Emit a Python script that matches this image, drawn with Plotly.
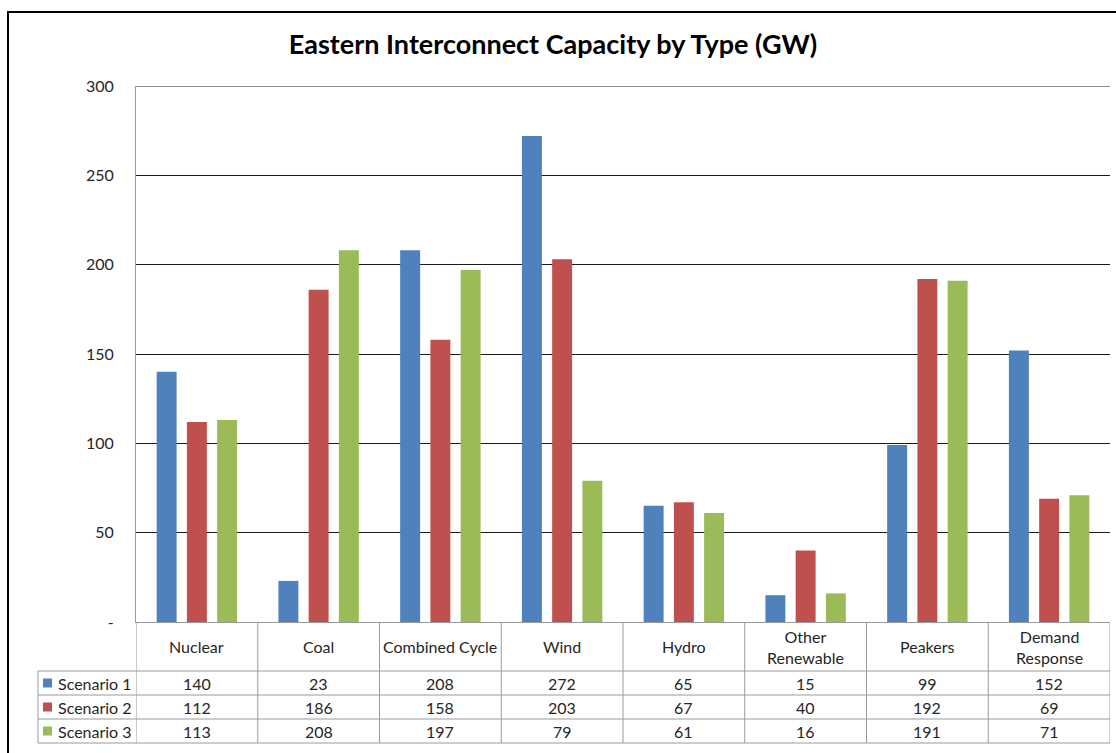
import plotly.graph_objects as go

# ---- data -------------------------------------------------------------
categories = ["Nuclear", "Coal", "Combined Cycle", "Wind", "Hydro",
              "Other<br>Renewable", "Peakers", "Demand<br>Response"]
scenario_names = ["Scenario 1", "Scenario 2", "Scenario 3"]
scenario_1 = [140, 23, 208, 272, 65, 15, 99, 152]
scenario_2 = [112, 186, 158, 203, 67, 40, 192, 69]
scenario_3 = [113, 208, 197, 79, 61, 16, 191, 71]
y_tick_values = [0, 50, 100, 150, 200, 250, 300]
y_tick_labels = ["-", "50", "100", "150", "200", "250", "300"]

series = [scenario_1, scenario_2, scenario_3]
colors = ["#4F81BD", "#C0504D", "#9BBB59"]

# ---- page geometry ------------------------------------------------------
W, H = 1116, 753
L, R, T, B = 136, 6, 86, 131
PW, PH = W - L - R, H - T - B
FONT = "Lato, 'Open Sans', sans-serif"
TEXT = "#262626"
CELL_LINE = "#9a9a9a"
FS = 16


def px_x(px):
    return (px - L) / PW


def px_y(py):
    return (H - B - py) / PH


header_top, header_bottom = 622, 671
row_edges = [671, 695, 719, 743]
legend_left = 38

fig = go.Figure()
x_idx = list(range(len(categories)))
for name, vals, col in zip(scenario_names, series, colors):
    fig.add_trace(go.Bar(x=x_idx, y=vals, name=name, marker_color=col,
                         marker_line_width=0, showlegend=False,
                         hovertemplate="%{y}<extra>" + name + "</extra>"))

shapes = []
annotations = []

# top gridline at the axis maximum
shapes.append(dict(type="line", xref="paper", yref="y", x0=0, x1=1,
                   y0=y_tick_values[-1], y1=y_tick_values[-1],
                   line=dict(color="#1a1a1a", width=1), layer="below"))

# data-table grid: horizontal rules (legend column + category cells)
for py in row_edges:
    shapes.append(dict(type="line", xref="paper", yref="paper",
                       x0=px_x(legend_left), x1=1, y0=px_y(py), y1=px_y(py),
                       line=dict(color=CELL_LINE, width=1)))
# vertical rules at category boundaries
for i in range(len(categories) + 1):
    shapes.append(dict(type="line", xref="x", yref="paper",
                       x0=i - 0.5, x1=i - 0.5,
                       y0=px_y(header_top), y1=px_y(row_edges[-1]),
                       line=dict(color=CELL_LINE, width=1)))
# left edge of the legend column
shapes.append(dict(type="line", xref="paper", yref="paper",
                   x0=px_x(legend_left), x1=px_x(legend_left),
                   y0=px_y(row_edges[0]), y1=px_y(row_edges[-1]),
                   line=dict(color=CELL_LINE, width=1)))

# header labels
for i, cat in enumerate(categories):
    annotations.append(dict(x=i, y=px_y((header_top + header_bottom) / 2),
                            xref="x", yref="paper", text=cat, showarrow=False,
                            font=dict(family=FONT, size=FS, color=TEXT),
                            xanchor="center", yanchor="middle"))

# value rows with legend keys
for r, (name, vals, col) in enumerate(zip(scenario_names, series, colors)):
    top, bot = row_edges[r], row_edges[r + 1]
    mid = (top + bot) / 2
    shapes.append(dict(type="rect", xref="paper", yref="paper",
                       x0=px_x(43), x1=px_x(52), y0=px_y(mid - 4.5), y1=px_y(mid + 4.5),
                       fillcolor=col, line=dict(width=0)))
    annotations.append(dict(x=px_x(56), y=px_y(mid), xref="paper", yref="paper",
                            text=name, showarrow=False, xanchor="left", yanchor="middle",
                            font=dict(family=FONT, size=FS, color=TEXT)))
    for i, v in enumerate(vals):
        annotations.append(dict(x=i, y=px_y(mid), xref="x", yref="paper",
                                text=str(v), showarrow=False,
                                xanchor="center", yanchor="middle",
                                font=dict(family=FONT, size=FS, color=TEXT)))

# chart frame: top and left edges (the others run off the page)
shapes.append(dict(type="line", xref="paper", yref="paper",
                   x0=px_x(7), x1=px_x(W), y0=px_y(12), y1=px_y(12),
                   line=dict(color="#000000", width=2)))
shapes.append(dict(type="line", xref="paper", yref="paper",
                   x0=px_x(8), x1=px_x(8), y0=px_y(11), y1=px_y(H),
                   line=dict(color="#000000", width=2)))

fig.update_layout(
    width=W, height=H,
    margin=dict(l=L, r=R, t=T, b=B),
    paper_bgcolor="white", plot_bgcolor="white",
    barmode="group", bargap=0.255, bargroupgap=0.34,
    title=dict(text="<b>Eastern Interconnect Capacity by Type (GW)</b>",
               xref="container", x=553 / W, xanchor="center",
               yref="container", y=1 - 45 / H, yanchor="middle",
               font=dict(family=FONT, size=27, color="#000000")),
    xaxis=dict(range=[-0.5, len(categories) - 0.5], showticklabels=False,
               showgrid=False, zeroline=False, showline=True,
               linecolor=CELL_LINE, linewidth=1, ticks=""),
    yaxis=dict(range=[0, 300], tickvals=y_tick_values, ticktext=y_tick_labels,
               showgrid=True, gridcolor="#1a1a1a", gridwidth=1,
               zeroline=False, showline=True, linecolor=CELL_LINE, linewidth=1,
               ticks="", ticklabelstandoff=18,
               tickfont=dict(family=FONT, size=FS, color=TEXT)),
    shapes=shapes,
    annotations=annotations,
)

fig.write_html("out.html")
